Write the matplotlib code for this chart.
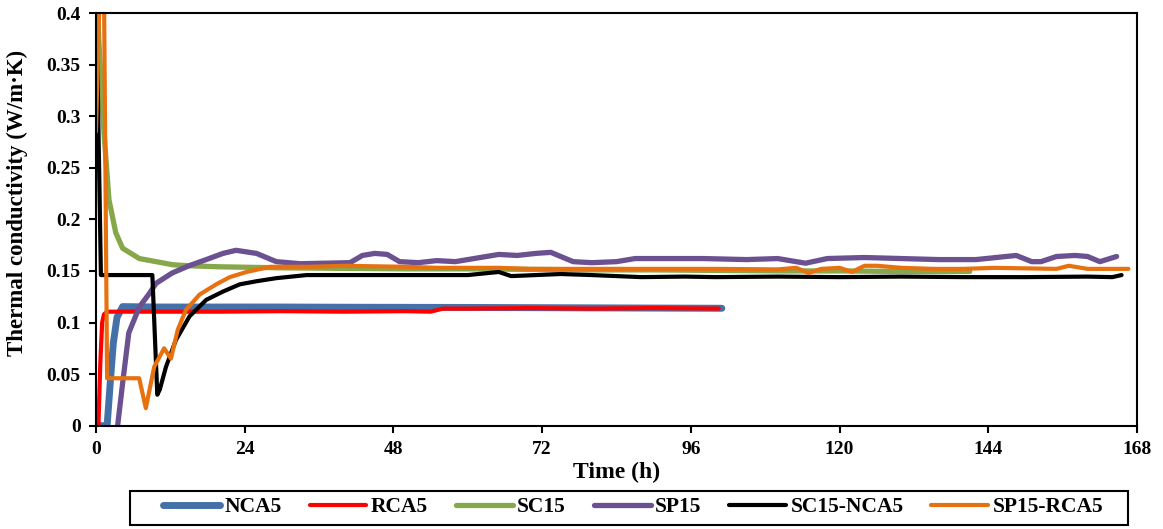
import matplotlib
matplotlib.use("Agg")
import matplotlib.pyplot as plt
from matplotlib.patches import Rectangle

# ---- data (time in h, k in W/m·K) ----
NCA5_T = [0, 0.3, 1.8, 2.3, 2.8, 3.4, 4.3, 10, 20, 30, 40, 50, 60, 70, 80, 90, 101]
NCA5_K = [0.008, 0.0, 0.0, 0.041, 0.080, 0.105, 0.1154, 0.115, 0.115, 0.115,
          0.1148, 0.1147, 0.1146, 0.1144, 0.1142, 0.114, 0.1138]

RCA5_T = [0, 0.4, 0.7, 1.0, 1.3, 1.8, 10, 20, 30, 40, 50, 54, 56, 60, 70, 80, 90, 100.5]
RCA5_K = [0.0, 0.0, 0.06, 0.10, 0.108, 0.1105, 0.1105, 0.1105, 0.111, 0.1105, 0.111,
          0.1105, 0.1135, 0.1135, 0.114, 0.1135, 0.114, 0.1135]

SC15_T = [0, 0.5, 1.3, 2.1, 3.2, 4.3, 7.0, 12.4, 15, 20, 30, 40, 50, 60, 70, 80,
          90, 100, 110, 120, 130, 141]
SC15_K = [0.43, 0.37, 0.284, 0.219, 0.187, 0.172, 0.162, 0.156, 0.155, 0.154,
          0.153, 0.1525, 0.152, 0.152, 0.1515, 0.151, 0.151, 0.1505, 0.150,
          0.150, 0.1495, 0.1495]

SP15_T = [3.5, 4.3, 5.3, 7.0, 8.6, 9.7, 12.3, 15, 17.8, 20.5, 22.6, 25.9, 29.1,
          33, 37, 41, 43, 45, 47, 49, 52, 55, 58, 62, 65, 68, 71, 73.4, 75, 77,
          80, 84, 87, 92, 98, 105, 110, 114.5, 118, 124, 130, 136, 142, 148.5,
          151, 152.5, 155, 158, 160, 162, 164.7]
SP15_K = [0.0, 0.041, 0.090, 0.115, 0.128, 0.138, 0.148, 0.155, 0.161, 0.167,
          0.170, 0.167, 0.159, 0.157, 0.1575, 0.158, 0.165, 0.167, 0.166, 0.159,
          0.158, 0.160, 0.159, 0.163, 0.166, 0.165, 0.167, 0.168, 0.164, 0.159,
          0.158, 0.159, 0.162, 0.162, 0.162, 0.161, 0.162, 0.1575, 0.162, 0.163,
          0.162, 0.161, 0.161, 0.165, 0.159, 0.159, 0.164, 0.165, 0.164, 0.159,
          0.164]

SC15_NCA5_T = [0, 0.1, 0.2, 0.8, 9.1, 9.9, 10.3, 11.3, 12.9, 15.1, 17.8, 20.5,
               23.2, 25.9, 29.1, 34, 40, 50, 60, 65, 67, 75, 80, 88, 95, 100,
               110, 120, 130, 140, 150, 160, 164, 165.5]
SC15_NCA5_K = [0.284, 0.362, 0.362, 0.146, 0.146, 0.030, 0.035, 0.057, 0.083,
               0.106, 0.122, 0.130, 0.137, 0.140, 0.143, 0.146, 0.146, 0.146,
               0.146, 0.149, 0.145, 0.147, 0.146, 0.144, 0.1445, 0.144, 0.1445,
               0.144, 0.1445, 0.144, 0.144, 0.1445, 0.144, 0.146]

SP15_RCA5_T = [0, 0.5, 0.9, 1.3, 1.8, 6.97, 8.05, 9.4, 11.0, 12.1, 13.2, 14.5,
               16.7, 19.4, 21.6, 24.3, 28.1, 34.6, 40, 45, 50, 55, 60, 65, 70,
               75, 80, 90, 100, 110, 113, 115, 117, 120, 122, 124, 126, 130,
               135, 140, 145, 150, 155, 157, 160, 166.6]
SP15_RCA5_K = [0.285, 0.40, 0.43, 0.42, 0.046, 0.046, 0.017, 0.057, 0.075, 0.065,
               0.093, 0.112, 0.127, 0.137, 0.144, 0.149, 0.154, 0.154, 0.155,
               0.1545, 0.154, 0.153, 0.153, 0.153, 0.152, 0.152, 0.152, 0.152,
               0.152, 0.1515, 0.153, 0.148, 0.152, 0.153, 0.149, 0.155, 0.155,
               0.153, 0.152, 0.152, 0.153, 0.1525, 0.152, 0.155, 0.152, 0.152]

X_TICKS = [0, 24, 48, 72, 96, 120, 144, 168]
Y_TICKS = [0, 0.05, 0.1, 0.15, 0.2, 0.25, 0.3, 0.35, 0.4]
Y_TICKLABELS = ["0", "0.05", "0.1", "0.15", "0.2", "0.25", "0.3", "0.35", "0.4"]

plt.rcParams["font.family"] = ["Liberation Serif", "DejaVu Serif"]
plt.rcParams["font.weight"] = "bold"

fig = plt.figure(figsize=(11.63, 5.29), dpi=100)
ax = fig.add_axes([0.0825, 0.1953, 0.8952, 0.7801])

series = [
    (NCA5_T, NCA5_K, "#4472a8", 5.0, "NCA5"),
    (RCA5_T, RCA5_K, "#ff0000", 3.0, "RCA5"),
    (SC15_T, SC15_K, "#86a84a", 3.8, "SC15"),
    (SP15_T, SP15_K, "#6c5191", 3.8, "SP15"),
    (SC15_NCA5_T, SC15_NCA5_K, "#000000", 3.0, "SC15-NCA5"),
    (SP15_RCA5_T, SP15_RCA5_K, "#e8710f", 3.0, "SP15-RCA5"),
]
for t, k, c, lw, lab in series:
    ax.plot(t, k, color=c, lw=lw, label=lab, solid_capstyle="round",
            solid_joinstyle="round")

ax.set_xlim(0, 168)
ax.set_ylim(0, 0.4)
ax.set_xticks(X_TICKS)
ax.set_yticks(Y_TICKS)
ax.set_yticklabels(Y_TICKLABELS)
ax.tick_params(direction="out", length=5, width=1.5, labelsize=14, pad=6)
for sp in ax.spines.values():
    sp.set_linewidth(1.5)
ax.set_xlabel("Time (h)", fontsize=17, fontweight="bold", labelpad=3)
ax.set_ylabel("Thermal conductivity (W/m·K)", fontsize=16.5, fontweight="bold")
ax.yaxis.set_label_coords(-0.0655, 0.54)

# legend entries without a frame; the box is drawn separately to match width
leg = fig.legend(loc="center", bbox_to_anchor=(0.5445, 0.041), ncol=6,
                 fontsize=15.5, frameon=False,
                 handlelength=2.64, handletextpad=0.2, columnspacing=1.3)
for ln in leg.get_lines():
    ln.set_solid_capstyle("round")
fig.patches.append(Rectangle((130 / 1163, 4 / 529), 998 / 1163, 34 / 529,
                             transform=fig.transFigure, fill=False,
                             edgecolor="black", lw=1.5))

fig.savefig("out.png", dpi=100)
